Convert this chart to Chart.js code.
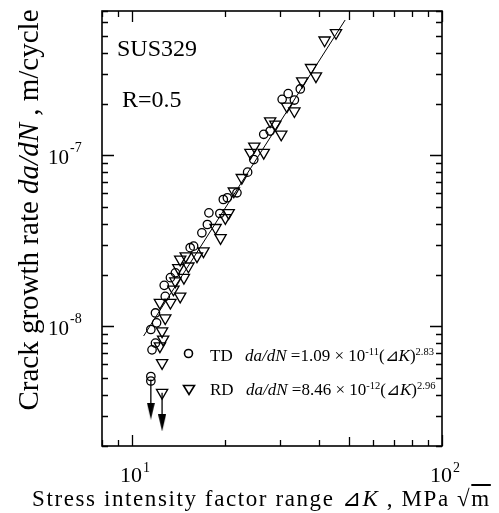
<!DOCTYPE html>
<html>
<head>
<meta charset="utf-8">
<script src="https://cdn.jsdelivr.net/npm/chart.js@4.4.1/dist/chart.umd.min.js"></script>
<style>
  html, body { margin: 0; padding: 0; background: #fff; }
  #wrap { position: relative; width: 499px; height: 513px; font-family: "Liberation Serif", "Times New Roman", serif; color: #000; overflow: hidden; }
  #wrap canvas { position: absolute; left: 0; top: 0; }
  .lbl { position: absolute; white-space: nowrap; line-height: 1; }
  .lbl sup { font-size: 0.62em; vertical-align: baseline; position: relative; top: -0.55em; line-height: 0; }
  .tri { font-family: "DejaVu Serif", serif; font-size: 1em; }
  #yTitle { left: -182px; top: 196px; width: 420px; height: 28px; line-height: 28px; font-size: 29px; text-align: center; transform: rotate(-90deg); }
  #xTitle { left: 32px; top: 487px; font-size: 23px; letter-spacing: 1.6px; }
  .legend { font-size: 17px; }
</style>
</head>
<body>
<div id="wrap">
  <canvas id="fcgChart"></canvas>
  <div class="lbl" style="left:117px; top:36px; font-size:24px;">SUS329</div>
  <div class="lbl" style="left:122px; top:87px; font-size:24px;">R=0.5</div>

  <svg style="position:absolute; left:183px; top:348px;" width="11" height="11"><circle cx="5.5" cy="5.5" r="4" fill="none" stroke="#000" stroke-width="1.6"/></svg>
  <div class="lbl legend" style="left:210px; top:347px;">TD</div>
  <div class="lbl legend" style="left:245px; top:347px;"><i>da/dN</i> =1.09 × 10<sup>-11</sup>(<span class="tri">⊿</span><i>K</i>)<sup>2.83</sup></div>

  <svg style="position:absolute; left:182px; top:384px;" width="14" height="12"><polygon points="1.5,1.5 12.5,1.5 7,10.5" fill="none" stroke="#000" stroke-width="1.6"/></svg>
  <div class="lbl legend" style="left:210px; top:381px;">RD</div>
  <div class="lbl legend" style="left:246px; top:381px;"><i>da/dN</i> =8.46 × 10<sup>-12</sup>(<span class="tri">⊿</span><i>K</i>)<sup>2.96</sup></div>

  <div class="lbl" id="yTitle">Crack growth rate <i>da/dN</i> , m/cycle</div>
  <div class="lbl" id="xTitle">Stress intensity factor range <span class="tri">⊿</span><i>K</i> ,  MPa √<span style="text-decoration: overline;">m</span></div>
</div>

<script>
// TD (circles): stress intensity factor range and crack growth rate
const tdK = [34.9, 31.9, 30.5, 33.4, 26.6, 27.9, 24.7, 23.6, 21.8, 20.3, 19.7, 17.7, 19.2,
  17.5, 16.8, 15.8, 15.4, 13.8, 13.3, 12.7, 12.8, 11.9, 12.0, 11.5, 11.9, 11.6, 11.5, 11.5];
const tdRate = [2.45e-7, 2.30e-7, 2.13e-7, 2.11e-7, 1.33e-7, 1.39e-7, 9.47e-8, 7.99e-8, 6.05e-8, 5.66e-8,
  5.53e-8, 4.62e-8, 4.58e-8, 3.95e-8, 3.53e-8, 2.95e-8, 2.89e-8, 2.06e-8, 1.93e-8, 1.74e-8, 1.50e-8,
  1.20e-8, 1.05e-8, 9.6e-9, 8.0e-9, 7.3e-9, 5.1e-9, 4.8e-9];

// RD (down triangles)
const rdK = [45.5, 41.8, 37.8, 39.2, 35.4, 31.6, 33.4, 27.9, 29.0, 30.3, 24.8, 24.1, 26.6, 22.6,
  21.3, 20.5, 20.0, 18.6, 19.3, 17.0, 16.2, 14.9, 14.3, 15.2, 14.1, 14.7, 13.8, 14.3, 13.6, 12.3,
  13.3, 12.8, 12.5, 12.6, 12.3, 12.5, 12.5];
const rdRate = [5.22e-7, 4.72e-7, 3.26e-7, 2.91e-7, 2.72e-7, 1.94e-7, 1.82e-7, 1.59e-7, 1.52e-7,
  1.33e-7, 1.13e-7, 1.04e-7, 1.04e-7, 7.41e-8, 6.18e-8, 4.62e-8, 4.32e-8, 3.78e-8, 3.30e-8, 2.76e-8,
  2.58e-8, 2.58e-8, 2.47e-8, 2.25e-8, 2.20e-8, 1.93e-8, 1.84e-8, 1.50e-8, 1.65e-8, 1.38e-8, 1.38e-8,
  1.12e-8, 9.4e-9, 8.4e-9, 7.67e-9, 6.13e-9, 4.1e-9];

// fitted line, end points
const fitK = [10.9, 48.7];
const fitRate = [8.8e-9, 6.2e-7];

// run-out arrows (TD, RD)
const arrowK = [11.5, 12.5];
const arrowFrom = [4.9e-9, 4.1e-9];
const arrowTo = [3.2e-9, 2.73e-9];

const xLabelTicks = [10, 100];
const yLabelTicks = [1e-8, 1e-7];

function toPoints(xs, ys) {
  return xs.map((x, i) => ({ x, y: ys[i] }));
}

function makeArrowHead() {
  const c = document.createElement("canvas");
  c.width = 8;
  c.height = 17;
  const g = c.getContext("2d");
  g.fillStyle = "#000";
  g.beginPath();
  g.moveTo(0, 0);
  g.lineTo(8, 0);
  g.lineTo(4, 17);
  g.closePath();
  g.fill();
  return c;
}

function decadeTicks(min, max) {
  const out = [];
  for (let e = Math.floor(Math.log10(min)); e <= Math.ceil(Math.log10(max)); e++) {
    for (let k = 1; k <= 9; k++) {
      const v = k * Math.pow(10, e);
      if (v >= min * 0.999 && v <= max * 1.001) out.push({ v, k });
    }
  }
  return out;
}

// frame, inward ticks and "10^n" labels
const framePlugin = {
  id: "frame",
  afterDatasetsDraw(chart) {
    const { ctx, chartArea: a, scales } = chart;
    const x = scales.x, y = scales.y;
    ctx.save();
    ctx.strokeStyle = "#000";
    ctx.lineWidth = 1.6;
    ctx.strokeRect(a.left, a.top, a.right - a.left, a.bottom - a.top);

    ctx.lineWidth = 1.3;
    ctx.beginPath();
    decadeTicks(x.min, x.max).forEach((t) => {
      const px = Math.round(x.getPixelForValue(t.v)) + 0.5;
      const len = t.k === 1 ? 11 : t.k === 5 ? 9 : 6;
      ctx.moveTo(px, a.bottom);
      ctx.lineTo(px, a.bottom - len);
      ctx.moveTo(px, a.top);
      ctx.lineTo(px, a.top + len);
    });
    decadeTicks(y.min, y.max).forEach((t) => {
      const py = Math.round(y.getPixelForValue(t.v)) + 0.5;
      const len = t.k === 1 ? 12 : 6;
      ctx.moveTo(a.left, py);
      ctx.lineTo(a.left + len, py);
      ctx.moveTo(a.right, py);
      ctx.lineTo(a.right - len, py);
    });
    ctx.stroke();

    ctx.fillStyle = "#000";
    ctx.textBaseline = "alphabetic";
    xLabelTicks.forEach((v) => {
      const px = x.getPixelForValue(v);
      ctx.font = '22px "Liberation Serif"';
      ctx.textAlign = "center";
      ctx.fillText("10", px - 1, a.bottom + 36);
      const w = ctx.measureText("10").width;
      ctx.font = '14px "Liberation Serif"';
      ctx.textAlign = "left";
      ctx.fillText(String(Math.round(Math.log10(v))), px - 1 + w / 2 + 1, a.bottom + 26);
    });
    yLabelTicks.forEach((v) => {
      const py = y.getPixelForValue(v);
      ctx.font = '21px "Liberation Serif"';
      ctx.textAlign = "right";
      ctx.fillText("10", a.left - 33, py + 9);
      ctx.font = '14px "Liberation Serif"';
      ctx.textAlign = "left";
      ctx.fillText(String(Math.round(Math.log10(v))), a.left - 32, py - 3);
    });
    ctx.restore();
  },
};

document.addEventListener("DOMContentLoaded", () => {
  const head = makeArrowHead();
  const arrowSets = arrowK.map((k, i) => ({
    type: "line",
    data: [{ x: k, y: arrowFrom[i] }, { x: k, y: arrowTo[i] }],
    borderColor: "#000",
    borderWidth: 1.3,
    pointRadius: [0, 5],
    pointStyle: head,
    showLine: true,
  }));

  new Chart(document.getElementById("fcgChart"), {
    type: "scatter",
    data: {
      datasets: [
        {
          label: "fit",
          type: "line",
          data: toPoints(fitK, fitRate),
          borderColor: "#000",
          borderWidth: 1,
          pointRadius: 0,
          showLine: true,
        },
        {
          label: "TD",
          data: toPoints(tdK, tdRate),
          pointStyle: "circle",
          pointRadius: 4.2,
          borderColor: "#000",
          borderWidth: 1.3,
          backgroundColor: "rgba(0,0,0,0)",
        },
        {
          label: "RD",
          data: toPoints(rdK, rdRate),
          pointStyle: "triangle",
          rotation: 180,
          pointRadius: 6.5,
          borderColor: "#000",
          borderWidth: 1.3,
          backgroundColor: "rgba(0,0,0,0)",
        },
        ...arrowSets,
      ],
    },
    options: {
      responsive: true,
      maintainAspectRatio: false,
      animation: false,
      layout: { padding: { left: 102, right: 57, top: 11, bottom: 67 } },
      plugins: { legend: { display: false }, tooltip: { enabled: false } },
      scales: {
        x: { type: "logarithmic", min: 8, max: 100, display: false },
        y: { type: "logarithmic", min: 2e-9, max: 7e-7, display: false },
      },
    },
    plugins: [framePlugin],
  });
});
</script>
</body>
</html>
